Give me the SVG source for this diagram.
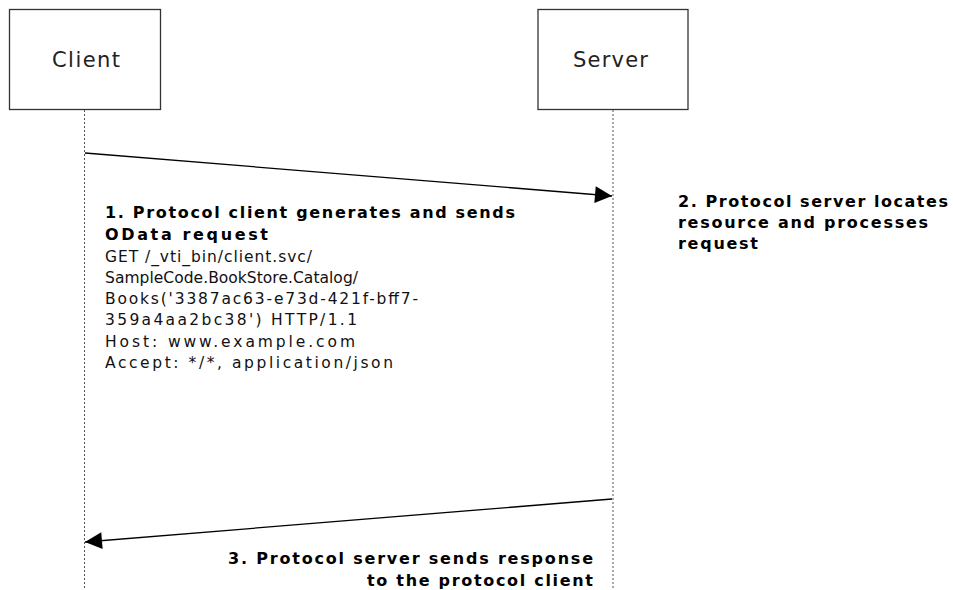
<svg xmlns="http://www.w3.org/2000/svg" width="953" height="590" viewBox="0 0 953 590">
<style>
.box{fill:#fff;stroke:#333;stroke-width:1.3}
.life{stroke:#555;stroke-width:1;stroke-dasharray:2,2}
.msg{stroke:#000;stroke-width:1.3;fill:none}
.t{font-family:"DejaVu Sans",Verdana,sans-serif;fill:#000}
.title{font-size:21px;fill:#222}
.b{font-size:16px;font-weight:bold}
.n{font-size:15.5px;fill:#111}
</style>
<defs>
<marker id="ah" viewBox="0 0 10 10" refX="10" refY="5" markerWidth="23" markerHeight="17" markerUnits="userSpaceOnUse" orient="auto">
<path d="M0,0 L10,5 L0,10 z" fill="#000"/>
</marker>
</defs>
<g id="client">
<rect class="box" x="9.5" y="9.5" width="151" height="100"/>
<text class="t title" x="52" y="67" textLength="68" lengthAdjust="spacing">Client</text>
</g>
<g id="server">
<rect class="box" x="538" y="9.5" width="150" height="100"/>
<text class="t title" x="573" y="67" textLength="75" lengthAdjust="spacing">Server</text>
</g>
<g id="connectors">
<line class="life" x1="84.5" y1="110" x2="84.5" y2="590"/>
<line class="life" x1="613" y1="110" x2="613" y2="590"/>
<line class="msg" x1="85" y1="153" x2="612" y2="196" marker-end="url(#ah)"/>
<line class="msg" x1="612" y1="499" x2="85" y2="542" marker-end="url(#ah)"/>
</g>
<g id="label1">
<text class="t b" x="105" y="218" textLength="410" lengthAdjust="spacing">1. Protocol client generates and sends</text>
<text class="t b" x="105" y="240" textLength="163" lengthAdjust="spacing">OData request</text>
<text class="t n" x="105" y="262" textLength="207" lengthAdjust="spacing">GET /_vti_bin/client.svc/</text>
<text class="t n" x="105" y="283" textLength="253" lengthAdjust="spacing">SampleCode.BookStore.Catalog/</text>
<text class="t n" x="105" y="304" textLength="313" lengthAdjust="spacing">Books('3387ac63-e73d-421f-bff7-</text>
<text class="t n" x="105" y="325" textLength="252" lengthAdjust="spacing">359a4aa2bc38') HTTP/1.1</text>
<text class="t n" x="105" y="347" textLength="250" lengthAdjust="spacing">Host: www.example.com</text>
<text class="t n" x="105" y="368" textLength="288" lengthAdjust="spacing">Accept: */*, application/json</text>
</g>
<g id="label2">
<text class="t b" x="678" y="207" textLength="270" lengthAdjust="spacing">2. Protocol server locates</text>
<text class="t b" x="678" y="228" textLength="250" lengthAdjust="spacing">resource and processes</text>
<text class="t b" x="678" y="249" textLength="80" lengthAdjust="spacing">request</text>
</g>
<g id="label3">
<text class="t b" x="228" y="564" textLength="365" lengthAdjust="spacing">3. Protocol server sends response</text>
<text class="t b" x="367" y="586" textLength="226" lengthAdjust="spacing">to the protocol client</text>
</g>
</svg>
